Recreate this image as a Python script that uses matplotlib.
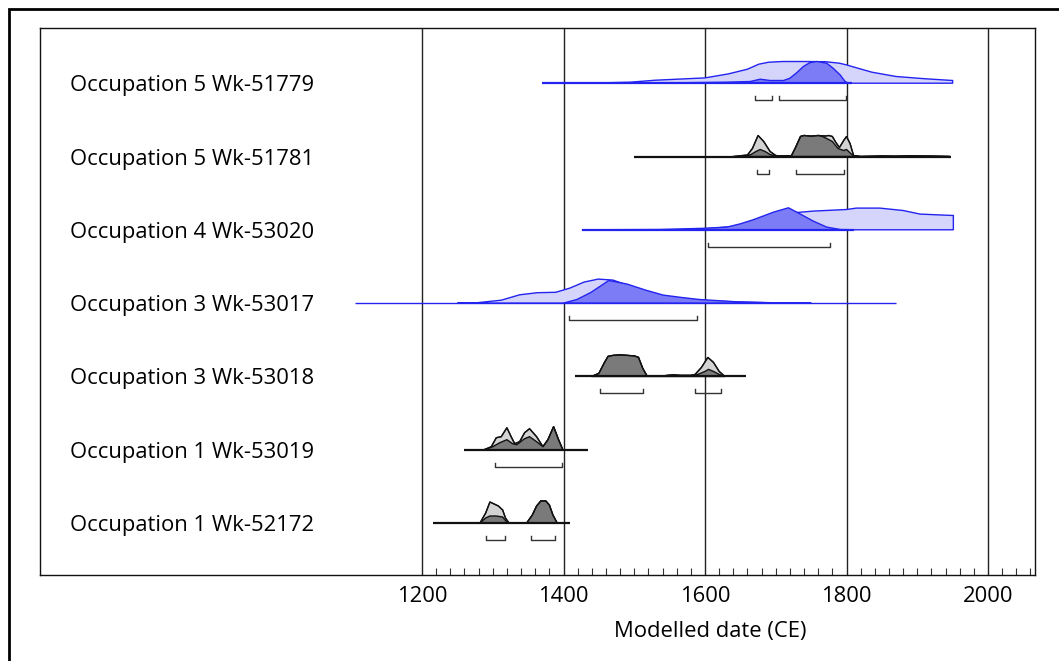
import matplotlib
matplotlib.use("Agg")
import matplotlib.pyplot as plt
from matplotlib.patches import Rectangle

# sample names, top row first
labels = ["Occupation 5 Wk-51779", "Occupation 5 Wk-51781", "Occupation 4 Wk-53020",
          "Occupation 3 Wk-53017", "Occupation 3 Wk-53018", "Occupation 1 Wk-53019",
          "Occupation 1 Wk-52172"]
kinds = ["blue", "gray", "blue", "blue", "gray", "gray", "gray"]

# (year, height), heights in pixels above the row line
wk51779_light = [(1370, 0), (1450, 0.3), (1494, 1), (1530, 3), (1600, 5.3), (1633, 9.3), (1660, 14),
                 (1676, 19), (1690, 21), (1710, 21.7), (1740, 21.7), (1770, 21.5), (1790, 20),
                 (1800, 18.3), (1816, 15), (1836, 11), (1870, 6.7), (1910, 4.5), (1950, 2.7), (1950, 0)]
wk51779_dark = [(1466, 0), (1560, 0.4), (1630, 1), (1664, 1.7), (1678, 4), (1692, 2.7), (1711, 2.7),
                (1720, 5), (1730, 10.7), (1739, 16.7), (1748, 20.5), (1758, 21.7), (1772, 20),
                (1781, 15), (1791, 8.3), (1798, 1.7), (1803, 0)]

wk51781_light = [(1640, 0), (1660, 1.5), (1667, 8), (1675, 21), (1683, 15), (1692, 5), (1700, 1),
                 (1710, 0.3), (1722, 0.5), (1728, 9), (1735, 20), (1740, 21), (1750, 20.3),
                 (1760, 21), (1770, 20.5), (1775, 21), (1780, 20), (1785, 14), (1790, 9),
                 (1796, 16), (1800, 20), (1805, 13), (1810, 1), (1820, 0), (1850, 0.5),
                 (1870, 0.3), (1890, 0.6), (1920, 0.4), (1946, 0)]
wk51781_dark = [(1655, 0), (1665, 2), (1672, 5), (1678, 7), (1685, 5), (1692, 2), (1700, 0.5),
                (1722, 0.5), (1728, 9), (1735, 20), (1740, 21), (1750, 20.3), (1760, 21),
                (1766, 20), (1772, 18), (1780, 15), (1788, 8), (1796, 6), (1800, 7),
                (1806, 3), (1811, 0)]

wk53020_light = [(1560, 0), (1600, 1), (1640, 3.3), (1678, 7.7), (1706, 13.7), (1725, 17),
                 (1753, 18.7), (1800, 20.3), (1814, 21.7), (1847, 21.7), (1880, 19.3),
                 (1904, 15.7), (1951, 14.3), (1951, 0)]
wk53020_dark = [(1426, 0), (1536, 0.3), (1598, 1.5), (1631, 2.7), (1650, 6), (1668, 10),
                (1697, 17.7), (1718, 22), (1734, 16), (1753, 8.7), (1772, 2.7), (1791, 0.3),
                (1810, 0)]

wk53017_light = [(1250, 0), (1277, 0.3), (1312, 2.9), (1338, 8.3), (1363, 10.4), (1389, 10.8),
                 (1409, 15), (1429, 21), (1449, 24), (1470, 23), (1490, 18), (1516, 11),
                 (1541, 7), (1592, 3), (1643, 1), (1693, 0.3), (1750, 0)]
wk53017_dark = [(1400, 0), (1419, 3.6), (1439, 10.8), (1464, 22.6), (1490, 19), (1516, 13),
                (1541, 8), (1566, 5.7), (1592, 3.6), (1643, 1.4), (1693, 0.4), (1750, 0)]

wk53018_light = [(1440, 0), (1450, 3), (1458, 14), (1463, 20), (1470, 21), (1480, 21.5),
                 (1490, 21), (1500, 20.5), (1506, 19), (1512, 8), (1518, 0.5), (1540, 0.5),
                 (1555, 1.5), (1565, 1), (1580, 1), (1586, 2), (1595, 9), (1604, 19),
                 (1612, 14), (1620, 5), (1628, 0)]
wk53018_dark = [(1440, 0), (1450, 3), (1458, 14), (1463, 20), (1470, 21), (1480, 21.5),
                (1490, 21), (1500, 20.5), (1506, 19), (1512, 8), (1518, 0.5), (1540, 0.5),
                (1555, 1.5), (1565, 1), (1580, 1), (1590, 2), (1600, 5), (1605, 7),
                (1612, 5), (1620, 2), (1628, 0)]

wk53019_light = [(1288, 0), (1298, 3), (1305, 12), (1312, 13), (1320, 22), (1326, 13),
                 (1331, 6), (1338, 8), (1345, 17), (1352, 21), (1362, 13), (1371, 3),
                 (1378, 10), (1386, 23), (1393, 10), (1399, 0)]
wk53019_dark = [(1288, 0), (1300, 3), (1310, 7), (1320, 10), (1328, 6), (1334, 5), (1345, 11),
                (1352, 13), (1362, 8), (1371, 3), (1378, 10), (1386, 23), (1393, 10), (1399, 0)]

wk52172_light = [(1282, 0), (1290, 10), (1296, 21), (1302, 19), (1308, 17), (1314, 13),
                 (1318, 5), (1323, 0), (1348, 0), (1356, 8), (1362, 17), (1368, 22),
                 (1375, 22), (1380, 18), (1385, 8), (1391, 0)]
wk52172_dark = [(1282, 0), (1290, 5), (1296, 7), (1305, 7), (1314, 6), (1321, 0), (1348, 0),
                (1356, 8), (1362, 17), (1368, 22), (1375, 22), (1380, 18), (1385, 8), (1391, 0)]

lights = [wk51779_light, wk51781_light, wk53020_light, wk53017_light, wk53018_light,
          wk53019_light, wk52172_light]
darks = [wk51779_dark, wk51781_dark, wk53020_dark, wk53017_dark, wk53018_dark,
         wk53019_dark, wk52172_dark]

# row lines (start, end)
spans = [(1370, 1808), (1500, 1948), (1426, 1810), (1105, 1870), (1416, 1658),
         (1260, 1435), (1216, 1409)]
span_width = [1.6, 1.6, 1.6, 1.0, 1.6, 1.6, 1.6]

# highest posterior density ranges under each row
ranges = [[(1670, 1695), (1704, 1799)], [(1673, 1690), (1729, 1797)], [(1604, 1777)],
          [(1408, 1588)], [(1452, 1513), (1586, 1622)], [(1303, 1398)],
          [(1291, 1317), (1354, 1388)]]

major_ticks = [1200, 1400, 1600, 1800, 2000]
minor_ticks = list(range(1220, 2061, 20))

W, H = 1059, 661
ROW = 73.3  # pixels per row

plt.rcParams['font.family'] = ['Open Sans', 'DejaVu Sans']

fig = plt.figure(figsize=(W / 100, H / 100), dpi=100)
ax = fig.add_axes([40 / W, 1 - 575 / H, 995 / W, 547 / H])
ax.set_xlim(660.1, 2066.4)
ax.set_ylim(-52 / ROW, (547 - 52) / ROW)

colours = {"blue": ("#d5d5fb", "#7c7cf6", "#2424f0"),
           "gray": ("#d3d3d3", "#7a7a7a", "#111111")}

for x in major_ticks:
    ax.axvline(x, color="#222222", lw=1, zorder=1)

n = len(labels)
for i in range(n):
    y0 = n - 1 - i
    light_c, dark_c, edge_c = colours[kinds[i]]
    lx = [p[0] for p in lights[i]]
    ly = [y0 + p[1] / ROW for p in lights[i]]
    dx = [p[0] for p in darks[i]]
    dy = [y0 + p[1] / ROW for p in darks[i]]
    ax.fill(lx, ly, facecolor=light_c, edgecolor=edge_c, lw=1, zorder=2)
    ax.fill(dx, dy, facecolor=dark_c, edgecolor=edge_c, lw=1, zorder=3)
    if kinds[i] == "gray":
        # light curve outline sits above the darker fill
        ax.plot(lx, ly, color=edge_c, lw=0.9, zorder=4)
    ax.plot(spans[i], [y0, y0], color=edge_c, lw=span_width[i], zorder=5,
            solid_capstyle="butt")
    yb = y0 - 17 / ROW
    for a, b in ranges[i]:
        ax.plot([a, a, b, b], [yb + 4 / ROW, yb, yb, yb + 4 / ROW], color="#333333",
                lw=1, zorder=5)
    ax.text(702, y0, labels[i], ha="left", va="center_baseline", fontsize=15.8, zorder=6)

ax.set_yticks([])
ax.set_xticks(major_ticks)
ax.set_xticklabels([str(t) for t in major_ticks])
ax.set_xticks(minor_ticks, minor=True)
ax.tick_params(axis="x", which="major", length=0, pad=8, labelsize=15.8)
ax.tick_params(axis="x", which="minor", direction="in", length=5, width=0.8, color="#333333")
for s in ax.spines.values():
    s.set_linewidth(1)
    s.set_color("#111111")

fig.text(710 / W, 1 - 631 / H, "Modelled date (CE)", ha="center", va="center", fontsize=15.8)

# outer frame, only top and left visible
fig.patches.append(Rectangle((9 / W, -0.1), 1.2, 1 - 9 / H + 0.1, transform=fig.transFigure,
                             fill=False, lw=2, edgecolor="black"))

fig.savefig("out.png", dpi=100)
